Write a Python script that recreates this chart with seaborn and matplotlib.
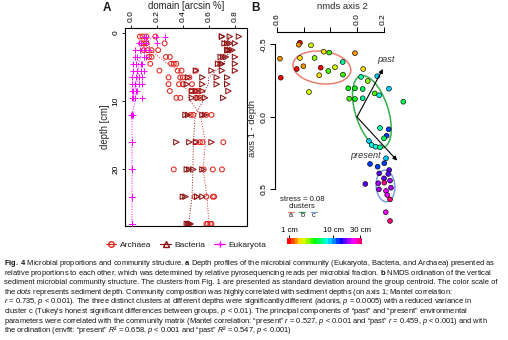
import numpy as np
import pandas as pd
import matplotlib
matplotlib.use("Agg")
import matplotlib.pyplot as plt
import seaborn as sns
from matplotlib import font_manager
from matplotlib.colors import ListedColormap, Normalize, hsv_to_rgb
from matplotlib.patches import Ellipse
from matplotlib.lines import Line2D
from matplotlib.cm import ScalarMappable

# ---------------- Panel A: domain depth profiles (arcsin-transformed) ----------------
depths_cm = [0.5, 1.5, 2.5, 3.5, 4.5, 5.5, 6.5, 7.5, 8.5, 9.5, 12, 16, 20, 24, 28]
archaea = [
    [0.07, 0.09, 0.12, 0.19], [0.08, 0.10, 0.12, 0.26], [0.10, 0.13, 0.16, 0.21],
    [0.14, 0.16, 0.27, 0.30], [0.15, 0.31, 0.33, 0.35], [0.22, 0.36, 0.39, 0.50],
    [0.29, 0.38, 0.40, 0.45], [0.29, 0.37, 0.40, 0.47], [0.30, 0.47, 0.50, 0.52],
    [0.35, 0.38, 0.50, 0.53], [0.46, 0.48, 0.58, 0.62], [0.50, 0.53, 0.55, 0.71],
    [0.33, 0.56, 0.63, 0.70], [0.49, 0.58, 0.63, 0.64], [0.58, 0.59, 0.61, 0.62],
]
bacteria = [
    [0.70, 0.70, 0.76, 0.83], [0.72, 0.74, 0.76, 0.80], [0.74, 0.75, 0.76, 0.78],
    [0.69, 0.71, 0.73, 0.80], [0.67, 0.69, 0.70, 0.80], [0.50, 0.62, 0.70, 0.80],
    [0.44, 0.55, 0.66, 0.74], [0.43, 0.55, 0.66, 0.74], [0.47, 0.50, 0.55, 0.75],
    [0.47, 0.52, 0.57, 0.71], [0.42, 0.44, 0.55, 0.57], [0.35, 0.45, 0.50, 0.62],
    [0.43, 0.45, 0.48, 0.55], [0.40, 0.42, 0.51, 0.55], [0.43, 0.44, 0.45, 0.46],
]
eukaryota = [
    [0.10, 0.12, 0.19, 0.26], [0.06, 0.08, 0.12, 0.20], [0.03, 0.07, 0.10, 0.14],
    [0.03, 0.05, 0.10, 0.12], [0.02, 0.04, 0.08, 0.09], [0.02, 0.05, 0.08, 0.10],
    [0.01, 0.04, 0.06, 0.09], [0.01, 0.03, 0.06, 0.09], [0.01, 0.02, 0.04, 0.05],
    [0.01, 0.02, 0.03, 0.09], [0.005, 0.01, 0.01, 0.015], [0.01, 0.01, 0.01, 0.01],
    [0.01, 0.01, 0.01, 0.01], [0.01, 0.01, 0.01, 0.01], [0.01, 0.01, 0.01, 0.01],
]
domain_names = ["Archaea", "Bacteria", "Eukaryota"]

# ---------------- Panel B: NMDS ordination ----------------
nmds_axis2 = [0.428, 0.437, 0.345, 0.249, 0.208, 0.015, 0.578, 0.428, 0.318, 0.107,
              0.402, 0.452, 0.272, 0.165, 0.215, -0.047, 0.283, 0.105, 0.572, -0.030,
              -0.081, -0.152, 0.360, 0.065, 0.015, -0.043, -0.240, -0.133, -0.167, 0.058,
              0.015, -0.043, -0.348, -0.173, -0.238, -0.223, -0.203, -0.090, -0.110, -0.140,
              -0.173, -0.218, -0.098, -0.205, -0.155, -0.242, -0.167, -0.235, -0.203, -0.248,
              -0.063, -0.160, -0.205, -0.255, -0.165, -0.218, -0.227, -0.248, -0.216, -0.248]
nmds_axis1 = [-0.512, -0.498, -0.494, -0.450, -0.444, -0.440, -0.402, -0.407, -0.407, -0.379,
              -0.350, -0.331, -0.340, -0.343, -0.317, -0.331, -0.288, -0.292, -0.271, -0.276,
              -0.248, -0.281, -0.172, -0.198, -0.198, -0.193, -0.195, -0.163, -0.150, -0.126,
              -0.124, -0.129, -0.105, 0.076, 0.085, 0.129, 0.147, 0.166, 0.193, 0.205,
              0.209, 0.285, 0.324, 0.319, 0.343, 0.366, 0.389, 0.393, 0.423, 0.439,
              0.462, 0.457, 0.453, 0.488, 0.499, 0.510, 0.538, 0.568, 0.657, 0.717]
sample_depth = [1, 1.5, 2.5, 2, 3.5, 1.5, 1.5, 2, 3, 6,
                1.5, 1, 1, 2.5, 4, 2, 2, 3.5, 0.5, 6.5,
                3, 9.5, 2.5, 4.5, 4.5, 5, 9, 3.5, 7.5, 4,
                4.5, 6.5, 5, 6.5, 12, 12, 5.5, 9, 7, 7,
                6, 9.5, 12, 12, 12, 16, 16, 16, 16, 20,
                16, 20, 28, 20, 20, 24, 24, 28, 24, 28]

# cluster standard-deviation ellipses (centroid, semi-axes, orientation in degrees)
cluster_names = ["a", "b", "c"]
cluster_centre_axis2 = [0.263, -0.112, -0.214]
cluster_centre_axis1 = [-0.341, -0.036, 0.476]
cluster_sd_major = [0.218, 0.262, 0.109]
cluster_sd_minor = [0.112, 0.122, 0.070]
cluster_angle = [174.0, 110.0, 95.0]
cluster_colors = ["#e8806f", "#33b04a", "#78a0dc"]

vector_names = ["past", "present"]
vector_axis2 = [-0.195, -0.302]
vector_axis1 = [-0.331, 0.301]
stress = 0.08

caption_lines = [
    r"$\mathbf{Fig.\ 4}$ Microbial proportions and community structure. $\mathbf{a}$ Depth profiles of the microbial community (Eukaryota, Bacteria, and Archaea) presented as",
    r"relative proportions to each other, which was determined by relative pyrosequencing reads per microbial fraction. $\mathbf{b}$ NMDS ordination of the vertical",
    r"sediment microbial community structure. The clusters from Fig. 1 are presented as standard deviation around the group centroid. The color scale of",
    r"the $\mathit{dots}$ represents sediment depth. Community composition was highly correlated with sediment depths (on axis 1; Mantel correlation:",
    r"$r$ = 0.735, $p$ < 0.001). The three distinct clusters at different depths were significantly different (adonis, $p$ = 0.0005) with a reduced variance in",
    r"cluster c (Tukey’s honest significant differences between groups, $p$ < 0.01). The principal components of “past” and “present” environmental",
    r"parameters were correlated with the community matrix (Mantel correlation: “present” $r$ = 0.527, $p$ < 0.001 and “past” $r$ = 0.459, $p$ < 0.001) and with",
    r"the ordination (envfit: “present” $R$² = 0.658, $p$ < 0.001 and “past” $R$² = 0.547, $p$ < 0.001)",
]

# ---------------- style ----------------
sns.set_style("ticks")
installed = {f.name for f in font_manager.fontManager.ttflist}
cap_family = "Liberation Sans Narrow" if "Liberation Sans Narrow" in installed else "Liberation Sans"
plt.rcParams.update({
    "font.family": ["Liberation Sans", "DejaVu Sans"],
    "axes.unicode_minus": False,
    "mathtext.fontset": "custom",
    "mathtext.rm": cap_family,
    "mathtext.it": f"{cap_family}:italic",
    "mathtext.bf": f"{cap_family}:bold",
    "axes.edgecolor": "black",
    "xtick.color": "black",
    "ytick.color": "black",
    "text.color": "#1a1a1a",
})

W, H = 508, 340
fig = plt.figure(figsize=(W / 100, H / 100), dpi=100)
fig.patch.set_facecolor("white")


def px(x, y):
    return x / W, 1 - y / H


def rect(l, t, r, b):
    return [l / W, 1 - b / H, (r - l) / W, (b - t) / H]


# ---------------- Panel A ----------------
rows = []
for name, table in zip(domain_names, [archaea, bacteria, eukaryota]):
    for d, vals in zip(depths_cm, table):
        for v in vals:
            rows.append({"domain": name, "depth": d, "value": v})
dfA = pd.DataFrame(rows)

dom_color = {"Archaea": "#e3261f", "Bacteria": "#8e1010", "Eukaryota": "#ff00ff"}
dom_marker = {"Archaea": "o", "Bacteria": ">", "Eukaryota": "+"}
dom_size = {"Archaea": 12, "Bacteria": 15, "Eukaryota": 24}

axA = fig.add_axes(rect(125, 28, 247, 226))
for name in domain_names:
    sub = dfA[dfA["domain"] == name]
    sns.lineplot(data=sub, x="value", y="depth", orient="y", estimator="mean",
                 errorbar=None, color=dom_color[name], linestyle=":", linewidth=0.7,
                 ax=axA, zorder=2)
    if dom_marker[name] == "+":
        sns.scatterplot(data=sub, x="value", y="depth", marker="+", color=dom_color[name],
                        s=dom_size[name], linewidth=0.7, ax=axA, zorder=3)
    else:
        sns.scatterplot(data=sub, x="value", y="depth", marker=dom_marker[name],
                        facecolor="none", edgecolor=dom_color[name],
                        s=dom_size[name], linewidth=0.75, ax=axA, zorder=3)

axA.set_xlim(-0.044, 0.892)
axA.set_ylim(28.3, -0.75)
axA.xaxis.tick_top()
axA.xaxis.set_label_position("top")
axA.set_xticks([0.0, 0.2, 0.4, 0.6, 0.8])
axA.set_xticklabels(["0.0", "0.2", "0.4", "0.6", "0.8"], rotation=90, fontsize=6)
axA.set_yticks([0, 10, 20])
axA.set_yticklabels(["0", "10", "20"], rotation=90, va="center", fontsize=6)
axA.tick_params(length=2.5, width=0.6, pad=1.5)
axA.set_xlabel("domain [arcsin %]", fontsize=6.9, labelpad=1)
axA.set_ylabel("depth [cm]", fontsize=6.9, labelpad=2)
for s in axA.spines.values():
    s.set_linewidth(0.8)
    s.set_visible(True)

handles = [Line2D([0], [0], color=dom_color["Archaea"], marker="o", markerfacecolor="none",
                  markersize=4, lw=0.8),
           Line2D([0], [0], color=dom_color["Bacteria"], marker="^", markerfacecolor="none",
                  markersize=4, lw=0.8),
           Line2D([0], [0], color=dom_color["Eukaryota"], marker="+", markersize=5, lw=0.8)]
fig.legend(handles, domain_names, loc="center", bbox_to_anchor=px(186, 245), ncol=3,
           frameon=False, fontsize=6, handlelength=1.3, handletextpad=0.4,
           columnspacing=1.1, borderaxespad=0)

fig.text(*px(107, 8), "A", fontsize=8.5, fontweight="bold", ha="center", va="center")

# ---------------- Panel B ----------------
n_blocks = 20
cmap = ListedColormap([hsv_to_rgb((h, 1, 1)) for h in np.linspace(0, 0.92, n_blocks)])
norm = Normalize(vmin=0.268, vmax=1.524)

dfB = pd.DataFrame({"axis2": nmds_axis2, "axis1": nmds_axis1, "depth": sample_depth})
dfB["depth_scale"] = np.log10(dfB["depth"] + 1)

axB = fig.add_axes(rect(275, 32, 410, 225))
axB.set_facecolor("none")

for i, cl in enumerate(cluster_names):
    axB.add_patch(Ellipse((cluster_centre_axis2[i], cluster_centre_axis1[i]),
                          width=2 * cluster_sd_major[i], height=2 * cluster_sd_minor[i],
                          angle=cluster_angle[i], facecolor="none",
                          edgecolor=cluster_colors[i], lw=1.1, zorder=2))

sns.scatterplot(data=dfB, x="axis2", y="axis1", hue="depth_scale", palette=cmap,
                hue_norm=norm, edgecolor="black", linewidth=0.45, s=12, legend=False,
                ax=axB, zorder=3)

for name, vx, vy in zip(vector_names, vector_axis2, vector_axis1):
    axB.annotate("", xy=(vx, vy), xytext=(0, 0),
                 arrowprops=dict(arrowstyle="-|>", color="black", lw=0.8,
                                 mutation_scale=6, shrinkA=0, shrinkB=0), zorder=4)
axB.annotate(vector_names[0], xy=(vector_axis2[0], vector_axis1[0]), xytext=(2.2, 6.5),
             textcoords="offset points", ha="center", va="center", fontsize=6.6,
             style="italic", color="#333333")
axB.annotate(vector_names[1], xy=(vector_axis2[1], vector_axis1[1]), xytext=(-11.5, 4),
             textcoords="offset points", ha="right", va="center", fontsize=6.6,
             style="italic", color="#333333")

axB.set_xlim(0.615, -0.398)
axB.set_ylim(0.745, -0.586)
axB.xaxis.tick_top()
axB.xaxis.set_label_position("top")
axB.set_xticks([0.6, 0.4, 0.2, 0.0, -0.2])
axB.set_xticklabels(["0.6", "", "", "0.0", "0.2"], rotation=90, fontsize=6)
axB.set_yticks([-0.5, 0.0, 0.5])
axB.set_yticklabels(["-0.5", "0.0", "0.5"], rotation=90, va="center", fontsize=6)
axB.tick_params(length=3.5, width=0.7, pad=1.5)
axB.set_xlabel("nmds axis 2", fontsize=6.8, labelpad=3)
axB.set_ylabel("axis 1 - depth", fontsize=6.8, labelpad=3)
axB.spines["bottom"].set_visible(False)
axB.spines["right"].set_visible(False)
axB.spines["top"].set_bounds(-0.2, 0.6)
axB.spines["left"].set_bounds(-0.5, 0.5)
for s in ("top", "left"):
    axB.spines[s].set_linewidth(0.8)

fig.text(*px(255, 8), "B", fontsize=8.5, fontweight="bold", ha="center", va="center")

# stress and cluster key
fig.text(*px(302, 199.5), f"stress = {stress:.2f}", fontsize=5.6, ha="center", va="center")
fig.text(*px(302, 206.5), "clusters", fontsize=5.6, ha="center", va="center")
for i, cl in enumerate(cluster_names):
    cx = 290.5 + 11.7 * i
    fig.add_artist(Line2D([(cx - 3) / W, (cx + 3) / W], [1 - 211.5 / H] * 2,
                          color=cluster_colors[i], lw=0.9, transform=fig.transFigure))
    fig.text(*px(cx, 215.5), cl, fontsize=5.2, ha="center", va="center")

# depth colour scale
cax = fig.add_axes(rect(287, 238, 362, 244))
cb = fig.colorbar(ScalarMappable(norm=norm, cmap=cmap), cax=cax, orientation="horizontal")
cb.outline.set_visible(False)
cb.set_ticks(np.log10(np.array([1, 10, 30]) + 1))
cb.set_ticklabels(["1 cm", "10 cm", "30 cm"])
cax.xaxis.set_ticks_position("top")
cax.tick_params(length=2, width=0.7, pad=1, labelsize=5.6)

# ---------------- caption ----------------
cap_texts = []
for i, line in enumerate(caption_lines):
    t = fig.text(4 / W, 1 - (265 + 9.6 * i) / H, line, fontsize=6, family=cap_family,
                 ha="left", va="baseline", color="#111111")
    cap_texts.append(t)

fig.canvas.draw()
renderer = fig.canvas.get_renderer()
w0 = cap_texts[0].get_window_extent(renderer).width
scale = 496.0 / w0
for t in cap_texts:
    t.set_fontsize(6 * scale)

fig.savefig("out.png", dpi=100, facecolor="white")
